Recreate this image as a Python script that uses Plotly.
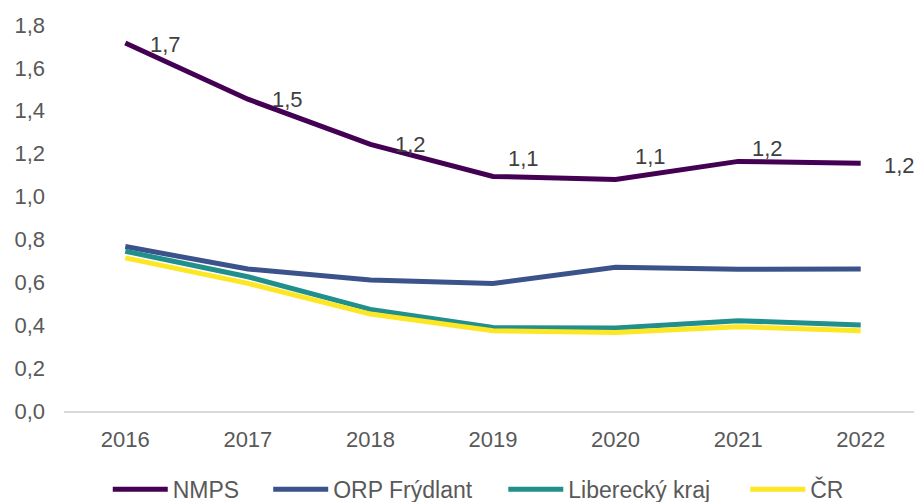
import plotly.graph_objects as go

years = ["2016", "2017", "2018", "2019", "2020", "2021", "2022"]
nmps = [1.716, 1.454, 1.243, 1.094, 1.080, 1.164, 1.155]
orp_frydlant = [0.767, 0.662, 0.611, 0.595, 0.670, 0.661, 0.662]
liberecky_kraj = [0.745, 0.626, 0.474, 0.389, 0.387, 0.421, 0.401]
cr = [0.714, 0.595, 0.452, 0.374, 0.366, 0.393, 0.374]

series_names = ["NMPS", "ORP Frýdlant", "Liberecký kraj", "ČR"]
series_values = [nmps, orp_frydlant, liberecky_kraj, cr]
colors = ["#440154", "#3B528B", "#21908C", "#FDE725"]

y_ticks = [0.0, 0.2, 0.4, 0.6, 0.8, 1.0, 1.2, 1.4, 1.6, 1.8]
y_tick_labels = [f"{v:.1f}".replace(".", ",") for v in y_ticks]

# label offsets (pixels) for NMPS data labels
label_dx = [40, 40, 40, 30, 35, 29, 39]
label_dy = [-1, 0, 0, 18, 23, 13, -2]

# legend entry left positions (paper fraction)
legend_x = [0.051, 0.238, 0.512, 0.794]
legend_ids = ["legend", "legend2", "legend3", "legend4"]

FONT = "Liberation Sans, Arial, sans-serif"

fig = go.Figure()
for name, vals, col, lid in zip(series_names, series_values, colors, legend_ids):
    fig.add_trace(go.Scatter(
        x=years, y=vals, name=name, mode="lines",
        line=dict(color=col, width=5),
        legend=lid,
        hoverinfo="skip",
    ))

for i, (v, dx, dy) in enumerate(zip(nmps, label_dx, label_dy)):
    fig.add_annotation(
        x=i, y=v, xref="x", yref="y",
        text=f"{v:.1f}".replace(".", ","),
        showarrow=False, xshift=dx, yshift=dy,
        font=dict(family=FONT, size=22, color="#404040"),
    )

legend_common = dict(
    orientation="h", xanchor="left", y=-0.203, yanchor="middle",
    font=dict(family=FONT, size=23, color="#595959"),
    itemwidth=55, bgcolor="rgba(0,0,0,0)",
)

fig.update_layout(
    width=914, height=502,
    margin=dict(l=56, r=0, t=17, b=99, autoexpand=False),
    paper_bgcolor="white", plot_bgcolor="white",
    font=dict(family=FONT, size=22, color="#595959"),
    showlegend=True,
    xaxis=dict(
        type="category", range=[-0.5, 6.5], showgrid=False, showline=True,
        linecolor="#D9D9D9", linewidth=2, ticks="", automargin=False,
        tickfont=dict(size=22, color="#595959"), zeroline=False,
        ticklabelstandoff=8,
    ),
    yaxis=dict(
        range=[0, 1.8], tickvals=y_ticks, ticktext=y_tick_labels,
        showgrid=False, showline=False, zeroline=False, ticks="",
        automargin=False,
        tickfont=dict(size=22, color="#595959"), ticklabelstandoff=18,
    ),
)
for lid, lx in zip(legend_ids, legend_x):
    fig.update_layout({lid: dict(legend_common, x=lx)})

fig.write_html("out.html")
